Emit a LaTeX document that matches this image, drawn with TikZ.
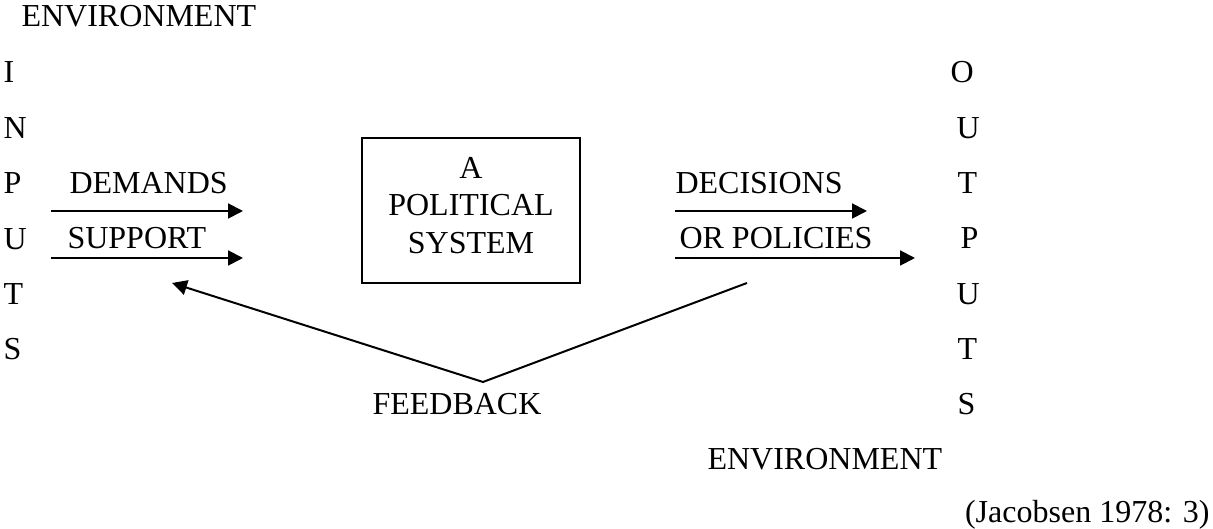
\documentclass[tikz,border=0pt]{standalone}
\usepackage{fontspec}
\setmainfont{Liberation Serif}
\usetikzlibrary{arrows, arrows.meta}
\usetikzlibrary{calc}
\tikzset{
  lbl/.style={inner sep=0pt, anchor=base west},
  flow/.style={line width=0.75pt, -{Triangle[length=5.6pt, width=5.6pt]}},
}

\begin{document}
\begin{tikzpicture}[x=0.375pt, y=-0.375pt, font=\fontsize{12}{14.06}\selectfont]
      \useasboundingbox (0,0) rectangle (1213,529);

      \node[lbl] (envin) at (21,27) {ENVIRONMENT};
      \foreach \l [count=\i] in {I,N,P,U,T,S}
        \node[lbl] (in\i) at (3, {83+55.4*(\i-1)}) {\l};
      \foreach \l/\x [count=\i] in {O/950,U/956,T/957,P/960,U/956,T/957,S/957}
        \node[lbl] (out\i) at (\x, {83+55.3*(\i-1)}) {\l};

      \node[lbl] (dem) at (69,194) {DEMANDS};
      \node[lbl] (sup) at (67,249) {SUPPORT};
      \node[lbl] (dec) at (675,194) {DECISIONS};
      \node[lbl] (pol) at (679,249) {OR POLICIES};
      \node[draw, line width=0.75pt, inner sep=0pt, minimum width=81.75pt, minimum height=54.4pt,
            label={[align=center, yshift=2pt]center:A\\POLITICAL\\SYSTEM}] (sys) at (471,210.5) {};
      \node[lbl] (fb) at (372,415) {FEEDBACK};
      \node[lbl] (envout) at (707,470) {ENVIRONMENT};
      \node[inner sep=0pt, anchor=base east] (src) at (1210,523) {(Jacobsen 1978: 3)};

      \coordinate (d0) at (51,211);  \coordinate (d1) at (243,211);
      \coordinate (s0) at (51,258);  \coordinate (s1) at (243,258);
      \coordinate (c0) at (675,211); \coordinate (c1) at (867,211);
      \coordinate (p0) at (675,258); \coordinate (p1) at (915,258);
      \coordinate (fr) at (747,283); \coordinate (fv) at (483,382); \coordinate (fl) at (172,283);

      \draw[flow] (d0) -- (d1);
      \draw[flow] (s0) -- (s1);
      \draw[flow] (c0) -- (c1);
      \draw[flow] (p0) -- (p1);
      \draw[flow] (fr) -- (fv) -- (fl);
\end{tikzpicture}
\end{document}
